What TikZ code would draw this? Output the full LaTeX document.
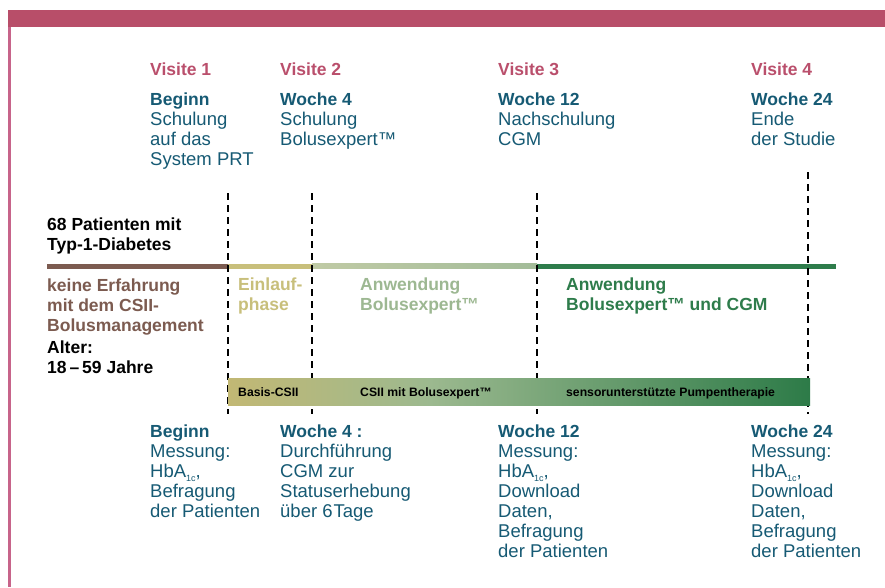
\documentclass[tikz,border=0pt]{standalone}
\usepackage{fontspec}
\setmainfont{Liberation Sans}
\usetikzlibrary{calc}

\definecolor{bandpink}{HTML}{B84E69}
\definecolor{edgepink}{HTML}{C7648A}
\definecolor{visitpink}{HTML}{BA4F6C}
\definecolor{petrol}{HTML}{165A74}
\definecolor{brownish}{HTML}{7C5B50}
\definecolor{khaki}{HTML}{C8BF7B}
\definecolor{sage}{HTML}{A3BC99}
\definecolor{sagetext}{HTML}{9DB892}
\definecolor{darkgreen}{HTML}{2E7C4B}
\definecolor{barkhaki}{HTML}{C2B874}
\definecolor{barsage}{HTML}{9CB98F}
\definecolor{bargreen}{HTML}{2D7B48}

\newcommand{\regsize}{\fontsize{18.5}{20}\selectfont}
\newcommand{\boldsize}{\fontsize{17.5}{20}\selectfont\bfseries}
\newcommand{\hba}{HbA\raisebox{-0.45ex}{\fontsize{9}{9}\selectfont 1c},}

\begin{document}
\begin{tikzpicture}[x=1pt,y=-1pt,
  block/.style={anchor=north west, inner sep=0pt, align=left, text=petrol, font=\regsize},
  visit/.style={anchor=north west, inner sep=0pt, text=visitpink, font=\boldsize},
  heavy/.style={anchor=north west, inner sep=0pt, align=left, font=\boldsize},
  bartext/.style={anchor=base west, inner sep=0pt, font=\fontsize{12.2}{14}\selectfont\bfseries, text=black},
  dashline/.style={draw=black, line width=2.4pt, dash pattern=on 7pt off 5pt},
  seg/.style={line width=5pt, line cap=butt}]
\useasboundingbox (0,0) rectangle (885,587);
\fill[white] (0,0) rectangle (885,587);

% frame: top band and left rule
\fill[bandpink] (8,10) rectangle (885,27);
\fill[edgepink] (8,27) rectangle (11,587);

% visits (top)
\node[visit] (vis1) at (150,62.5) {Visite 1};
\node[visit] (vis2) at (280,62.5) {Visite 2};
\node[visit] (vis3) at (498,62.5) {Visite 3};
\node[visit] (vis4) at (751,62.5) {Visite 4};

\node[block] (top1) at (150,92.5) {{\boldsize Beginn}\\Schulung\\auf das\\System PRT};
\node[block] (top2) at (280,92.5) {{\boldsize Woche 4}\\Schulung\\Bolusexpert™};
\node[block] (top3) at (498,92.5) {{\boldsize Woche 12}\\Nachschulung\\CGM};
\node[block] (top4) at (751,92.5) {{\boldsize Woche 24}\\Ende\\der Studie};

% time line
\coordinate (tl0) at (47,266);
\coordinate (tl1) at (228,266);
\coordinate (tl2) at (312,266);
\coordinate (tl3) at (537,266);
\coordinate (tl4) at (836,266);
\draw[seg, brownish] (tl0) -- (tl1);
\draw[seg, khaki] (tl1) -- (tl2);
\shade[left color=khaki!35!sage!80!white, right color=sage] ($(tl2)+(0,-2.5)$) rectangle ($(tl3)+(0,2.5)$);
\draw[seg, darkgreen] (tl3) -- (tl4);

% dashed visit markers
\coordinate (m1t) at (228,193); \coordinate (m1b) at (228,414);
\coordinate (m2t) at (312,193); \coordinate (m2b) at (312,414);
\coordinate (m3t) at (537,193); \coordinate (m3b) at (537,414);
\coordinate (m4t) at (808,172); \coordinate (m4b) at (808,414);
\draw[dashline] (m1t) -- (m1b);
\draw[dashline] (m2t) -- (m2b);
\draw[dashline] (m3t) -- (m3b);
\draw[dashline] (m4t) -- (m4b);

% left column
\node[heavy] (pat) at (47,217.5) {68 Patienten mit\\Typ-1-Diabetes};
\node[heavy, text=brownish] (exp) at (47,279) {keine Erfahrung\\mit dem CSII-\\Bolusmanagement};
\node[heavy] (age) at (47,340.5) {Alter:\\18\,–\,59 Jahre};

% phases
\node[heavy, text=khaki] (ph1) at (238,277.5) {Einlauf-\\phase};
\node[heavy, text=sagetext] (ph2) at (360,277.5) {Anwendung\\Bolusexpert™};
\node[heavy, text=darkgreen] (ph3) at (566,277.5) {Anwendung\\Bolusexpert™ und CGM};

% therapy bar
\shade[left color=barkhaki, right color=barsage] (228,378) rectangle (430,405);
\shade[left color=barsage, right color=bargreen] (429.5,378) rectangle (810,405);
\node[bartext] (b1) at (238,396) {Basis-CSII};
\node[bartext] (b2) at (360,396) {CSII mit Bolusexpert™};
\node[bartext] (b3) at (566,396) {sensorunterstützte Pumpentherapie};

% measurements (bottom)
\node[block] (bot1) at (150,424.5) {{\boldsize Beginn}\\Messung:\\\hba\\Befragung\\der Patienten};
\node[block] (bot2) at (280,424.5) {{\boldsize Woche 4 :}\\Durchführung\\CGM zur\\Statuserhebung\\über 6\kern1pt Tage};
\node[block] (bot3) at (498,424.5) {{\boldsize Woche 12}\\Messung:\\\hba\\Download\\Daten,\\Befragung\\der Patienten};
\node[block] (bot4) at (751,424.5) {{\boldsize Woche 24}\\Messung:\\\hba\\Download\\Daten,\\Befragung\\der Patienten};
\end{tikzpicture}
\end{document}
